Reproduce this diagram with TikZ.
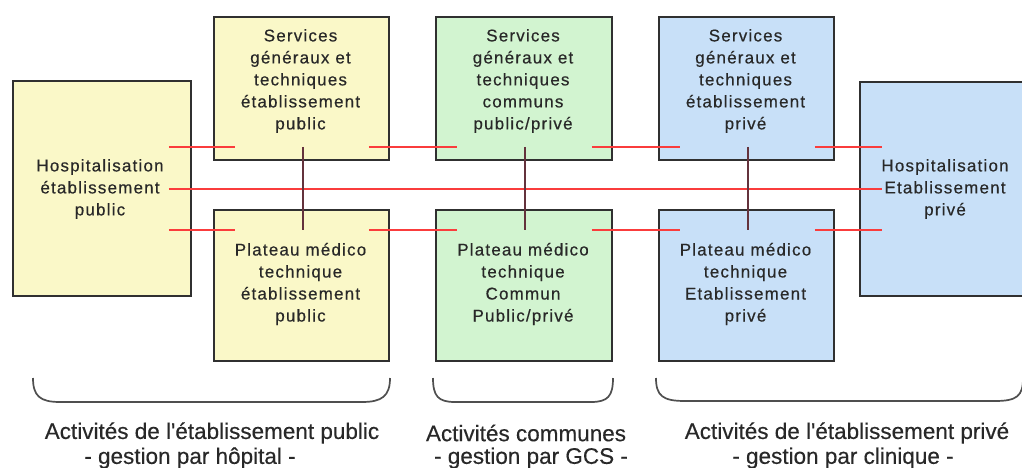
\documentclass[tikz,border=0pt]{standalone}
\usepackage{fontspec}
\newfontfamily\boxfont[LetterSpace=7,FakeBold=0.4]{Liberation Sans}
\newfontfamily\capfont[FakeBold=0.3]{Liberation Sans}
\definecolor{ybox}{RGB}{250,248,200}
\definecolor{gbox}{RGB}{210,244,208}
\definecolor{bbox}{RGB}{200,224,248}
\definecolor{bordc}{RGB}{48,48,48}
\definecolor{txtc}{RGB}{40,40,40}
\definecolor{redc}{RGB}{250,60,60}
\definecolor{vertc}{RGB}{100,50,60}
\tikzset{
  x=1pt, y=-1pt,
  boxst/.style={draw=bordc, line width=1.8pt, inner sep=0pt, anchor=north west},
  boxtxt/.style={font=\boxfont\fontsize{17}{22}\selectfont, text=txtc, align=center, inner sep=0pt},
  captxt/.style={font=\capfont\fontsize{22.5}{25}\selectfont, text=txtc, inner sep=0pt},
  redline/.style={draw=redc, line width=2.2pt},
  vline/.style={draw=vertc, line width=1.7pt},
  bracest/.style={draw=bordc!85, line width=1.7pt}
}
\begin{document}
\begin{tikzpicture}
\useasboundingbox (0,0) rectangle (1022,467);
\clip (0,0) rectangle (1022,467);
\fill[white] (0,0) rectangle (1022,467);

% boxes
\node[boxst, fill=ybox, minimum width=178pt, minimum height=215pt] (hp) at (12,80) {};
\node[boxst, fill=ybox, minimum width=175pt, minimum height=143pt] (sgp) at (213,16) {};
\node[boxst, fill=ybox, minimum width=175pt, minimum height=151pt] (pmp) at (213,209) {};
\node[boxst, fill=gbox, minimum width=176pt, minimum height=143pt] (sgc) at (435,16) {};
\node[boxst, fill=gbox, minimum width=176pt, minimum height=151pt] (pmc) at (435,209) {};
\node[boxst, fill=bbox, minimum width=175pt, minimum height=143pt] (sgv) at (658,16) {};
\node[boxst, fill=bbox, minimum width=175pt, minimum height=151pt] (pmv) at (658,209) {};
\node[boxst, fill=bbox, minimum width=175pt, minimum height=214pt] (hv) at (859,81) {};

% box texts
\node[boxtxt] (thp) at (100,189) {Hospitalisation\\établissement\\public};
\node[boxtxt] (tsgp) at (300.5,81) {Services\\généraux et\\techniques\\établissement\\public};
\node[boxtxt] (tpmp) at (300.5,284) {Plateau médico\\technique\\établissement\\public};
\node[boxtxt] (tsgc) at (523,81) {Services\\généraux et\\techniques\\communs\\public/privé};
\node[boxtxt] (tpmc) at (523,284) {Plateau médico\\technique\\Commun\\Public/privé};
\node[boxtxt] (tsgv) at (745.5,81) {Services\\généraux et\\techniques\\établissement\\privé};
\node[boxtxt] (tpmv) at (745.5,284) {Plateau médico\\technique\\Etablissement\\privé};
\node[boxtxt] (thv) at (945,189) {Hospitalisation\\Etablissement\\privé};

% connector levels
\coordinate (u) at ([yshift=14pt]sgp.south);
\coordinate (m) at ([yshift=-0.5pt]hp.east);
\coordinate (l) at ([yshift=-21pt]pmp.north);

% upper red segments
\draw[redline] ([xshift=-23pt]hp.east |- u) -- ([xshift=22pt]sgp.west |- u);
\draw[redline] ([xshift=-21pt]sgp.east |- u) -- ([xshift=22pt]sgc.west |- u);
\draw[redline] ([xshift=-21pt]sgc.east |- u) -- ([xshift=22pt]sgv.west |- u);
\draw[redline] ([xshift=-20pt]sgv.east |- u) -- ([xshift=23pt]hv.west |- u);
% middle red line
\draw[redline] ([xshift=-23pt]hp.east |- m) -- ([xshift=23pt]hv.west |- m);
% lower red segments
\draw[redline] ([xshift=-23pt]hp.east |- l) -- ([xshift=22pt]pmp.west |- l);
\draw[redline] ([xshift=-21pt]pmp.east |- l) -- ([xshift=22pt]pmc.west |- l);
\draw[redline] ([xshift=-21pt]pmc.east |- l) -- ([xshift=22pt]pmv.west |- l);
\draw[redline] ([xshift=-20pt]pmv.east |- l) -- ([xshift=23pt]hv.west |- l);

% vertical connectors
\draw[vline] ([xshift=1.5pt]sgp.south |- u) -- ([xshift=1.5pt]pmp.north |- l);
\draw[vline] ([xshift=1pt]sgc.south |- u) -- ([xshift=1pt]pmc.north |- l);
\draw[vline] ([xshift=1.5pt]sgv.south |- u) -- ([xshift=1.5pt]pmv.north |- l);

% braces
\draw[bracest] (33,378) .. controls (33,396) and (40,402) .. (60,402) -- (362,402) .. controls (382,402) and (390,396) .. (390,378);
\draw[bracest] (433,378) .. controls (433,396) and (438,402) .. (455,402) -- (591,402) .. controls (608,402) and (613,396) .. (613,378);
\draw[bracest] (656,378) .. controls (656,396) and (663,401) .. (685,401) -- (995,401) .. controls (1017,401) and (1023,396) .. (1023,378);

% captions
\node[captxt] (c1a) at (212,433) {Activités de l'établissement public};
\node[captxt] (c1b) at (190,458) {- gestion par hôpital -};
\node[captxt] (c2a) at (526,433) {Activités communes};
\node[captxt] (c2b) at (531,458) {- gestion par GCS -};
\node[captxt] (c3a) at (847,433) {Activités de l'établissement privé};
\node[captxt] (c3b) at (843,458) {- gestion par clinique -};
\end{tikzpicture}
\end{document}
